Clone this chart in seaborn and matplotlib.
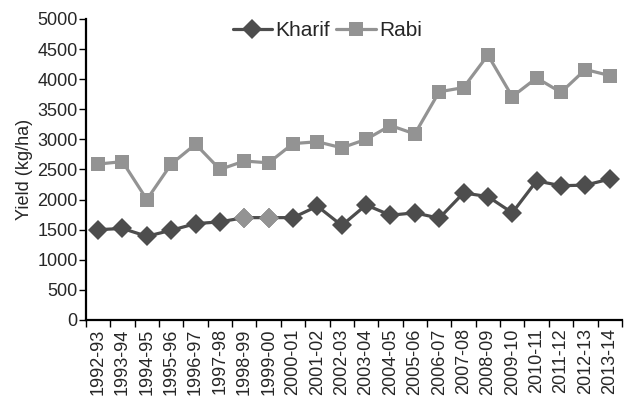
import numpy as np
import pandas as pd
import matplotlib
matplotlib.use("Agg")
import matplotlib.pyplot as plt
import seaborn as sns
from matplotlib.ticker import FixedLocator


seasons = ["1992-93", "1993-94", "1994-95", "1995-96", "1996-97", "1997-98",
           "1998-99", "1999-00", "2000-01", "2001-02", "2002-03", "2003-04",
           "2004-05", "2005-06", "2006-07", "2007-08", "2008-09", "2009-10",
           "2010-11", "2011-12", "2012-13", "2013-14"]

kharif = [1500, 1520, 1390, 1490, 1600, 1630, 1700, 1700, 1700, 1890, 1570,
          1910, 1740, 1780, 1690, 2110, 2050, 1780, 2310, 2230, 2240, 2340]

rabi = [2590, 2630, 2000, 2590, 2920, 2500, 2640, 2610, 2930, 2960, 2860,
        3000, 3230, 3090, 3790, 3860, 4400, 3710, 4020, 3780, 4160, 4060]

# seasons where the kharif marker is drawn lighter
kharif_light = ["1998-99", "1999-00"]

DARK = "#4d4d4d"
LIGHT = "#939393"


def main():
    sns.set_theme(style="ticks")
    plt.rcParams['font.family'] = ['Liberation Sans', 'DejaVu Sans']

    pos = np.arange(len(seasons))
    df = pd.DataFrame({
        'pos': np.concatenate([pos, pos]),
        'Yield': kharif + rabi,
        'Season': ['Kharif'] * len(seasons) + ['Rabi'] * len(seasons),
    })

    fig = plt.figure(figsize=(6.32, 4.03), dpi=100)
    ax = fig.add_axes([0.136, 0.206, 0.848, 0.747])

    sns.lineplot(data=df, x='pos', y='Yield', hue='Season', style='Season',
                 palette={'Kharif': DARK, 'Rabi': LIGHT},
                 markers={'Kharif': 'D', 'Rabi': 's'},
                 dashes=False, linewidth=2.3, markersize=10,
                 markeredgewidth=0, ax=ax)

    # lighter kharif markers
    light_idx = [seasons.index(s) for s in kharif_light]
    ax.plot(pos[light_idx], [kharif[i] for i in light_idx], linestyle='none',
            marker='D', markersize=10, markeredgewidth=0, color=LIGHT, zorder=5)

    ax.set_xlim(-0.5, len(seasons) - 0.5)
    ax.set_ylim(0, 5000)
    ax.set_yticks(range(0, 5001, 500))
    ax.set_xticks(pos)
    ax.set_xticklabels(seasons, rotation=90, fontsize=13)
    ax.xaxis.set_minor_locator(FixedLocator(np.arange(-0.5, len(seasons), 1.0)))
    ax.tick_params(axis='x', which='major', length=0, pad=6)
    ax.tick_params(axis='x', which='minor', length=5, width=1, color='black')
    ax.tick_params(axis='y', length=5, width=1, color='black', labelsize=13, pad=1)

    ax.set_xlabel('')
    ax.set_ylabel('Yield (kg/ha)', fontsize=13, labelpad=3)

    for s in ['top', 'right']:
        ax.spines[s].set_visible(False)
    for s in ['left', 'bottom']:
        ax.spines[s].set_color('black')
        ax.spines[s].set_linewidth(1.6)

    ax.legend(loc='upper center', bbox_to_anchor=(0.45, 1.055), ncol=2,
              frameon=False, fontsize=15, handlelength=1.9, handletextpad=0.15,
              columnspacing=0.3, title=None)

    fig.savefig("out.png", dpi=100)
    plt.close(fig)


if __name__ == "__main__":
    main()
